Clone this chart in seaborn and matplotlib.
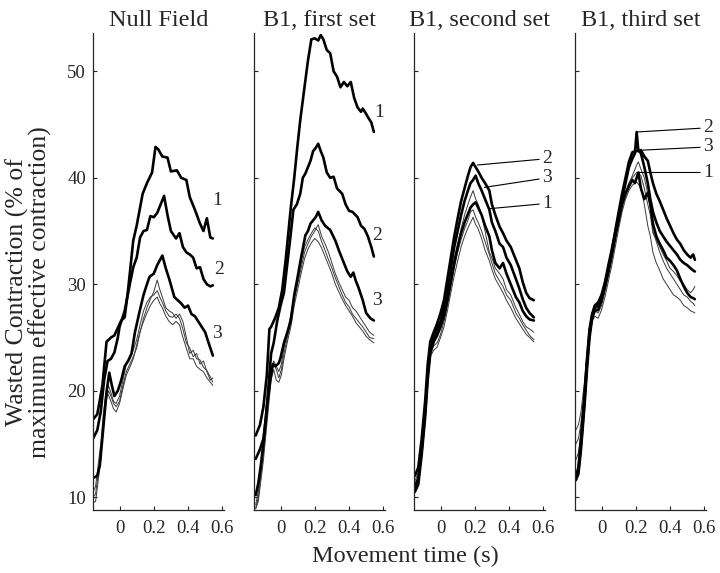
import numpy as np
import pandas as pd
import matplotlib
matplotlib.use('Agg')
import matplotlib.pyplot as plt
import seaborn as sns

sns.set_style('ticks')
plt.rcParams['font.family'] = ['Liberation Serif', 'DejaVu Serif']

titles = ['Null Field', 'B1, first set', 'B1, second set', 'B1, third set']
xticks = [0, 0.2, 0.4, 0.6]
yticks = [10, 20, 30, 40, 50]

# ---- Null Field: thick curves (numbered) ----
p1_c1_x = [-0.155, -0.13, -0.10, -0.076, -0.05, -0.03, 0.01, 0.03, 0.05, 0.08, 0.10, 0.135, 0.16, 0.19, 0.21, 0.225, 0.25, 0.28, 0.30, 0.335, 0.36, 0.39, 0.41, 0.44, 0.47, 0.49, 0.51, 0.53, 0.545]
p1_c1_y = [17.3, 17.8, 20.5, 24.6, 25.0, 25.2, 26.6, 26.9, 29.5, 34.1, 35.5, 38.5, 39.5, 40.5, 42.9, 42.7, 42.0, 41.9, 40.6, 40.7, 40.0, 39.8, 38.2, 37.0, 35.7, 35.0, 36.2, 34.4, 34.3]
p1_c2_x = [-0.155, -0.13, -0.11, -0.09, -0.07, -0.05, -0.03, -0.01, 0.0, 0.03, 0.06, 0.08, 0.10, 0.12, 0.14, 0.16, 0.18, 0.20, 0.22, 0.24, 0.26, 0.28, 0.30, 0.33, 0.35, 0.37, 0.39, 0.41, 0.43, 0.45, 0.47, 0.49, 0.51, 0.53, 0.545]
p1_c2_y = [15.5, 16.3, 18.0, 21.0, 22.8, 23.0, 23.6, 25.0, 26.0, 27.5, 30.0, 31.6, 32.5, 34.4, 35.0, 35.1, 36.4, 36.3, 36.7, 37.5, 38.3, 36.5, 35.0, 34.3, 34.8, 33.5, 33.0, 32.8, 32.5, 31.5, 31.6, 30.5, 30.0, 29.8, 29.9]
p1_c3_x = [-0.155, -0.13, -0.115, -0.095, -0.075, -0.06, -0.045, -0.03, -0.01, 0.01, 0.03, 0.05, 0.07, 0.09, 0.115, 0.14, 0.16, 0.175, 0.20, 0.22, 0.25, 0.27, 0.29, 0.32, 0.34, 0.36, 0.38, 0.40, 0.42, 0.44, 0.46, 0.48, 0.50, 0.52, 0.545]
p1_c3_y = [11.8, 12.0, 13.0, 16.5, 20.0, 21.7, 20.5, 19.5, 20.0, 21.0, 22.3, 22.8, 23.5, 25.5, 27.3, 29.0, 30.0, 30.7, 31.0, 31.8, 32.7, 31.5, 30.5, 28.8, 28.5, 28.2, 27.8, 28.0, 27.2, 27.0, 26.5, 26.0, 25.5, 24.5, 23.3]
# thin curves share one time grid
p1_t_x = [-0.155, -0.14, -0.125, -0.11, -0.095, -0.08, -0.065, -0.05, -0.035, -0.02, 0.0, 0.02, 0.04, 0.06, 0.08, 0.10, 0.12, 0.14, 0.16, 0.18, 0.20, 0.22, 0.235, 0.25, 0.27, 0.29, 0.31, 0.33, 0.35, 0.37, 0.39, 0.41, 0.43, 0.45, 0.47, 0.49, 0.51, 0.53, 0.545]
p1_t1_y = [9.5, 9.6, 11.5, 13.5, 16.5, 18.8, 20.0, 19.5, 18.8, 18.5, 19.0, 20.5, 21.8, 22.5, 23.2, 24.0, 25.5, 26.8, 27.8, 28.6, 29.3, 30.4, 29.5, 28.8, 27.8, 27.5, 27.3, 26.8, 27.2, 26.5, 25.0, 23.5, 23.8, 23.0, 22.9, 22.2, 21.9, 21.3, 20.8]
p1_t2_y = [10.0, 10.3, 12.2, 14.5, 17.2, 19.5, 20.5, 19.8, 19.0, 18.8, 19.5, 21.0, 22.5, 23.0, 23.8, 24.8, 26.2, 27.5, 28.3, 28.8, 29.0, 29.4, 28.8, 28.3, 27.5, 27.0, 26.9, 27.2, 26.8, 25.8, 24.5, 24.0, 23.2, 23.5, 22.5, 22.8, 21.8, 21.0, 21.2]
p1_t3_y = [10.5, 11.0, 13.0, 15.0, 17.8, 19.8, 19.6, 19.0, 18.3, 18.0, 18.8, 20.2, 21.5, 22.2, 23.0, 24.3, 25.6, 26.5, 27.3, 28.0, 28.5, 28.8, 28.2, 27.8, 27.0, 26.5, 26.2, 26.5, 26.2, 25.0, 24.0, 23.0, 23.0, 22.3, 22.0, 21.8, 21.2, 20.8, 20.5]

# ---- B1, first set ----
p2_c1_x = [-0.145, -0.12, -0.10, -0.08, -0.065, -0.055, -0.03, -0.01, 0.01, 0.03, 0.06, 0.08, 0.10, 0.115, 0.135, 0.16, 0.18, 0.20, 0.22, 0.235, 0.25, 0.27, 0.29, 0.31, 0.33, 0.35, 0.37, 0.39, 0.41, 0.43, 0.45, 0.47, 0.48, 0.50, 0.51, 0.53, 0.545]
p2_c1_y = [15.8, 16.8, 18.5, 21.5, 25.8, 26.0, 26.9, 27.8, 29.5, 32.3, 37.2, 40.0, 43.2, 45.4, 47.9, 51.0, 53.0, 53.1, 52.9, 53.4, 53.0, 52.0, 51.7, 50.0, 49.5, 48.5, 49.0, 48.6, 49.0, 47.5, 46.6, 46.2, 46.5, 46.0, 45.7, 45.2, 44.3]
p2_c2_x = [-0.145, -0.12, -0.10, -0.085, -0.07, -0.055, -0.04, -0.02, 0.0, 0.02, 0.04, 0.06, 0.075, 0.095, 0.115, 0.13, 0.145, 0.16, 0.175, 0.19, 0.205, 0.22, 0.235, 0.25, 0.27, 0.29, 0.31, 0.33, 0.36, 0.38, 0.40, 0.42, 0.45, 0.47, 0.49, 0.51, 0.53, 0.545]
p2_c2_y = [13.6, 14.5, 15.5, 17.5, 20.5, 23.5, 24.5, 26.5, 28.0, 29.2, 32.0, 34.8, 37.0, 37.5, 38.5, 40.0, 40.4, 41.0, 41.6, 42.5, 42.8, 43.2, 42.5, 41.9, 40.5, 40.0, 40.1, 39.0, 38.5, 37.5, 36.9, 36.8, 36.3, 35.5, 35.2, 34.5, 33.5, 32.6]
p2_c3_x = [-0.145, -0.13, -0.115, -0.10, -0.08, -0.06, -0.045, -0.03, -0.01, 0.0, 0.02, 0.04, 0.06, 0.08, 0.10, 0.12, 0.145, 0.16, 0.175, 0.19, 0.205, 0.22, 0.24, 0.26, 0.29, 0.32, 0.345, 0.37, 0.39, 0.41, 0.425, 0.44, 0.455, 0.48, 0.50, 0.525, 0.545]
p2_c3_y = [10.2, 11.3, 13.0, 15.1, 18.5, 21.0, 22.5, 22.3, 22.6, 23.1, 24.5, 25.5, 26.6, 29.0, 30.7, 32.5, 34.6, 35.0, 35.7, 36.0, 36.3, 36.8, 36.0, 35.5, 35.1, 34.1, 33.0, 32.0, 31.2, 30.7, 31.1, 30.3, 29.7, 28.5, 27.3, 26.8, 26.6]
p2_t_x = [-0.145, -0.13, -0.115, -0.10, -0.085, -0.07, -0.055, -0.04, -0.025, -0.01, 0.005, 0.02, 0.04, 0.06, 0.08, 0.10, 0.12, 0.14, 0.16, 0.18, 0.20, 0.22, 0.24, 0.26, 0.28, 0.30, 0.32, 0.34, 0.36, 0.38, 0.40, 0.42, 0.44, 0.46, 0.48, 0.50, 0.52, 0.545]
p2_t1_y = [9.0, 10.0, 12.0, 14.0, 16.5, 19.0, 21.5, 22.5, 22.0, 21.2, 22.0, 23.5, 25.0, 26.5, 28.5, 30.0, 31.5, 33.0, 33.8, 34.5, 35.0, 35.6, 34.5, 33.8, 33.0, 32.0, 31.0, 30.2, 29.5, 28.8, 28.5, 27.8, 27.5, 27.0, 26.5, 26.0, 25.5, 25.2]
p2_t2_y = [9.3, 10.5, 12.5, 14.5, 17.0, 19.5, 21.8, 22.8, 22.3, 21.8, 22.5, 24.0, 25.5, 27.2, 29.0, 30.5, 32.0, 33.5, 34.2, 34.8, 35.3, 35.0, 34.0, 33.2, 32.3, 31.5, 30.6, 29.8, 29.0, 28.3, 27.9, 27.2, 26.8, 26.4, 26.0, 25.5, 25.0, 24.9]
p2_t3_y = [8.9, 9.6, 11.5, 13.5, 16.0, 18.5, 21.0, 22.0, 21.0, 20.8, 21.5, 23.0, 24.6, 26.0, 28.0, 29.5, 31.0, 32.4, 33.3, 33.9, 34.3, 34.0, 33.4, 32.6, 31.8, 31.0, 30.0, 29.3, 28.6, 28.0, 27.5, 27.0, 26.4, 26.0, 25.6, 25.1, 24.8, 24.5]

# ---- B1, second set ----
p3_x = [-0.15, -0.13, -0.11, -0.09, -0.075, -0.06, -0.04, -0.02, 0.0, 0.02, 0.04, 0.06, 0.08, 0.10, 0.12, 0.14, 0.16, 0.175, 0.19, 0.205, 0.22, 0.24, 0.26, 0.285, 0.30, 0.32, 0.345, 0.365, 0.385, 0.41, 0.44, 0.46, 0.48, 0.50, 0.52, 0.545]
p3_c2_y = [12.0, 12.8, 15.5, 19.0, 22.5, 24.6, 25.5, 26.3, 27.3, 28.5, 30.5, 32.5, 34.5, 36.2, 37.8, 39.0, 40.2, 41.0, 41.4, 41.0, 40.6, 40.0, 39.5, 38.8, 37.5, 36.5, 35.4, 34.8, 34.1, 33.5, 32.3, 31.5, 30.2, 29.2, 28.7, 28.5]
p3_c3_y = [11.0, 11.8, 14.5, 18.0, 21.5, 24.0, 25.0, 25.8, 26.5, 27.8, 29.5, 31.5, 33.5, 35.0, 36.5, 37.8, 38.8, 39.5, 39.8, 40.2, 39.5, 38.8, 38.0, 37.0, 35.8, 35.0, 33.8, 33.5, 32.5, 31.8, 30.5, 29.6, 28.6, 27.8, 27.3, 26.9]
p3_c1_y = [10.5, 11.2, 14.0, 17.5, 21.0, 23.5, 24.6, 25.2, 26.0, 27.0, 28.5, 30.2, 32.0, 33.5, 34.8, 35.8, 36.6, 37.2, 37.5, 37.7, 37.2, 36.5, 35.5, 34.5, 33.2, 32.0, 31.5, 32.0, 31.0, 30.0, 28.8, 28.3, 27.5, 27.0, 26.7, 26.6]
p3_t1_y = [11.5, 12.3, 15.0, 18.5, 22.0, 24.0, 24.8, 25.3, 26.0, 27.2, 28.8, 30.5, 32.3, 33.8, 35.2, 36.5, 37.5, 38.2, 38.8, 38.0, 37.5, 36.5, 35.0, 33.0, 32.5, 31.5, 31.0, 30.5, 29.5, 29.0, 27.8, 27.2, 26.5, 26.0, 25.8, 25.5]
p3_t2_y = [11.2, 11.8, 14.8, 18.2, 21.5, 23.5, 24.2, 24.5, 25.3, 26.5, 28.0, 29.8, 31.5, 33.0, 34.2, 35.2, 36.0, 36.8, 37.0, 36.3, 35.8, 35.0, 34.0, 32.8, 32.0, 31.0, 30.3, 29.8, 29.0, 28.5, 27.3, 26.8, 26.2, 25.7, 25.2, 24.8]
p3_t3_y = [10.8, 11.5, 14.2, 17.8, 21.0, 23.2, 23.8, 24.1, 25.0, 26.0, 27.5, 29.2, 30.8, 32.2, 33.5, 34.5, 35.3, 35.8, 36.3, 35.6, 35.2, 34.3, 33.2, 32.2, 31.4, 30.5, 29.8, 29.2, 28.5, 27.8, 26.8, 26.3, 25.8, 25.3, 25.0, 24.6]

# ---- B1, third set ----
p4_x = [-0.15, -0.135, -0.12, -0.10, -0.085, -0.07, -0.055, -0.04, -0.02, 0.0, 0.02, 0.04, 0.06, 0.08, 0.10, 0.12, 0.14, 0.16, 0.18, 0.195, 0.205, 0.215, 0.23, 0.25, 0.27, 0.285, 0.30, 0.32, 0.34, 0.36, 0.38, 0.40, 0.42, 0.44, 0.46, 0.48, 0.50, 0.52, 0.535, 0.545]
p4_c2_y = [11.8, 12.5, 15.0, 19.0, 22.5, 25.5, 27.0, 27.8, 28.0, 28.8, 30.0, 31.5, 33.0, 34.8, 36.5, 37.9, 39.5, 41.0, 41.8, 42.3, 44.3, 42.5, 42.6, 42.0, 41.6, 40.5, 39.5, 38.5, 37.8, 37.0, 36.2, 35.5, 34.8, 34.2, 33.8, 33.2, 32.8, 32.5, 32.8, 32.3]
p4_c3_y = [12.0, 12.8, 15.5, 19.5, 23.0, 25.8, 27.2, 28.0, 28.3, 29.0, 30.2, 31.8, 33.3, 35.0, 36.8, 38.5, 40.0, 41.5, 42.4, 42.5, 42.5, 42.6, 42.3, 41.0, 39.5, 38.0, 36.8, 35.8, 35.0, 34.5, 34.0, 33.6, 33.2, 32.8, 32.3, 32.0, 31.8, 31.5, 31.3, 31.2]
p4_c1_y = [11.6, 12.2, 14.5, 18.5, 22.0, 25.0, 26.8, 27.5, 27.6, 28.5, 29.8, 31.2, 32.8, 34.5, 36.0, 37.5, 38.5, 39.2, 39.8, 39.5, 40.0, 40.5, 39.0, 38.0, 38.6, 37.5, 35.7, 34.5, 33.8, 33.2, 32.5, 32.2, 31.8, 31.3, 30.5, 29.8, 29.2, 28.8, 28.7, 28.6]
p4_t1_y = [15.0, 15.5, 17.0, 20.0, 23.0, 25.5, 27.0, 27.5, 27.3, 28.0, 29.3, 30.8, 32.3, 34.0, 35.8, 37.3, 38.5, 39.5, 40.2, 40.8, 41.2, 41.5, 40.8, 40.0, 38.5, 37.2, 35.0, 34.0, 33.0, 32.2, 31.5, 31.0, 30.5, 30.0, 29.5, 29.0, 28.8, 28.4, 28.2, 28.0]
p4_t2_y = [16.3, 16.8, 18.0, 20.8, 23.5, 25.8, 27.2, 27.8, 27.6, 28.3, 29.5, 31.0, 32.5, 34.2, 36.0, 37.5, 38.7, 39.5, 40.0, 40.3, 40.5, 40.4, 40.2, 39.0, 37.5, 36.5, 34.8, 34.2, 33.5, 32.8, 32.2, 31.5, 31.2, 30.8, 30.3, 30.0, 29.5, 29.2, 29.5, 29.8]
p4_t3_y = [13.5, 14.2, 16.0, 19.5, 22.5, 25.0, 26.5, 27.0, 26.8, 27.6, 28.8, 30.3, 31.8, 33.5, 35.2, 36.8, 38.0, 38.8, 39.3, 39.5, 39.6, 39.4, 39.0, 37.5, 35.5, 34.5, 33.0, 32.0, 31.3, 30.5, 30.0, 29.5, 29.0, 28.8, 28.5, 28.0, 27.8, 27.5, 27.4, 27.3]

thick = [
    [(p1_c1_x, p1_c1_y), (p1_c2_x, p1_c2_y), (p1_c3_x, p1_c3_y)],
    [(p2_c1_x, p2_c1_y), (p2_c2_x, p2_c2_y), (p2_c3_x, p2_c3_y)],
    [(p3_x, p3_c1_y), (p3_x, p3_c2_y), (p3_x, p3_c3_y)],
    [(p4_x, p4_c1_y), (p4_x, p4_c2_y), (p4_x, p4_c3_y)],
]
thin = [
    [(p1_t_x, p1_t1_y), (p1_t_x, p1_t2_y), (p1_t_x, p1_t3_y)],
    [(p2_t_x, p2_t1_y), (p2_t_x, p2_t2_y), (p2_t_x, p2_t3_y)],
    [(p3_x, p3_t1_y), (p3_x, p3_t2_y), (p3_x, p3_t3_y)],
    [(p4_x, p4_t1_y), (p4_x, p4_t2_y), (p4_x, p4_t3_y)],
]

# curve number labels: (text, x, y) in data units
labels_p1 = [('1', 0.57, 37.9), ('2', 0.58, 31.4), ('3', 0.57, 25.4)]
labels_p2 = [('1', 0.575, 46.1), ('2', 0.565, 34.6), ('3', 0.56, 28.5)]
# labelled with leader lines: (text, curve x, curve y, label y)
leaders_p3 = [('2', 0.215, 41.2, 41.8), ('3', 0.256, 39.1, 40.0), ('1', 0.285, 37.1, 37.6)]
leaders_p4 = [('2', 0.204, 44.3, 44.7), ('3', 0.24, 42.6, 42.9), ('1', 0.216, 40.5, 40.5)]

fig = plt.figure(figsize=(7.2, 5.73), dpi=100)
lefts = [93, 254, 414, 575]
axes = []
for i, left in enumerate(lefts):
    ax = fig.add_axes([left / 720, 63 / 573, 131 / 720, 477 / 573])
    axes.append(ax)
    for xs, ys in thin[i]:
        sns.lineplot(x=xs, y=ys, ax=ax, color='#3a3a3a', linewidth=0.7,
                     estimator=None, sort=False)
    for xs, ys in thick[i]:
        sns.lineplot(x=xs, y=ys, ax=ax, color='black', linewidth=1.9,
                     estimator=None, sort=False)
    ax.set_xlim(-0.155, 0.61)
    ax.set_ylim(8.8, 53.6)
    ax.set_xticks(xticks)
    ax.set_xticklabels(['0', '0.2', '0.4', '0.6'])
    ax.set_yticks(yticks)
    if i == 0:
        ax.set_yticklabels([str(v) for v in yticks])
    else:
        ax.set_yticklabels([])
    ax.tick_params(direction='in', length=3, width=0.8, labelsize=13.5)
    ax.tick_params(axis='x', pad=7)
    ax.tick_params(axis='y', pad=5)
    for s in ['top', 'right']:
        ax.spines[s].set_visible(False)
    for s in ['left', 'bottom']:
        ax.spines[s].set_linewidth(0.9)
    ax.set_title(titles[i], fontsize=17.5, pad=5)

for ax, labs in zip(axes[:2], [labels_p1, labels_p2]):
    for t, x, y in labs:
        ax.text(x, y, t, fontsize=14, ha='center', va='center', clip_on=False)

for ax, labs in zip(axes[2:], [leaders_p3, leaders_p4]):
    for t, cx, cy, ly in labs:
        ax.annotate(t, xy=(cx, cy), xytext=(0.595, ly), fontsize=14,
                    ha='left', va='center', annotation_clip=False,
                    arrowprops=dict(arrowstyle='-', lw=0.8, color='black',
                                    shrinkA=0, shrinkB=0))

fig.text(0.04, 0.49, 'Wasted Contraction (% of\nmaximum effective contraction)',
         rotation=90, ha='center', va='center', fontsize=18.5, linespacing=0.95,
         multialignment='center')
fig.text(405 / 720, 1 - 556 / 573, 'Movement time (s)', ha='center', va='center',
         fontsize=17.5)

fig.savefig('out.png', dpi=100)
